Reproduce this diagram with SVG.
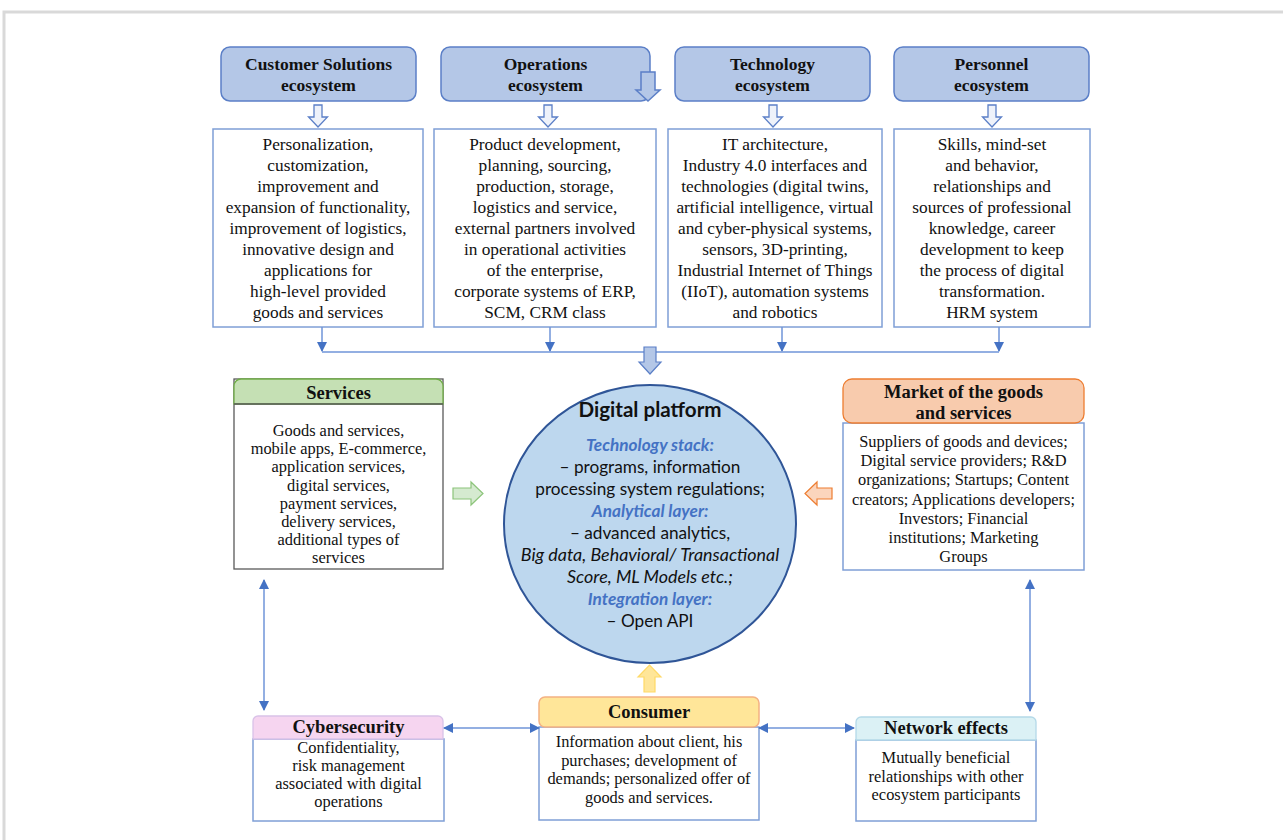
<svg xmlns="http://www.w3.org/2000/svg" width="1283" height="840" viewBox="0 0 1283 840">
<defs>
<style>
.hdr{fill:#b4c7e7;stroke:#5b7fc7;stroke-width:1.5}
.box{fill:#fff;stroke:#7f9fd6;stroke-width:1.5}
.t{font-family:"Liberation Serif",serif;font-size:17.3px;fill:#111;text-anchor:middle}
.s{font-family:"Liberation Serif",serif;font-size:16.4px;fill:#111;text-anchor:middle}
.b{font-family:"Liberation Serif",serif;font-size:17.5px;font-weight:bold;fill:#111;text-anchor:middle}
.b2{font-family:"Liberation Serif",serif;font-size:18.5px;font-weight:bold;fill:#111;text-anchor:middle}
.c{font-family:Lato,"Liberation Sans",sans-serif;font-size:17.2px;fill:#111;text-anchor:middle}
.ci{font-style:italic;font-size:17.9px}
.cb{font-family:Lato,"Liberation Sans",sans-serif;font-size:17.2px;font-style:italic;font-weight:bold;fill:#4472c4;text-anchor:middle}
.sm{fill:#eef2fa;stroke:#5b7fc7;stroke-width:1.3}
.ln{fill:none;stroke:#6f94d8;stroke-width:1.5}
</style>
<marker id="ah" viewBox="0 0 10 10" refX="9" refY="5" markerWidth="10" markerHeight="10" markerUnits="userSpaceOnUse" orient="auto-start-reverse">
<path d="M0,0 L10,5 L0,10 z" fill="#4472c4"/>
</marker>
</defs>
<rect x="4" y="12" width="1300" height="860" fill="none" stroke="#d9d9d9" stroke-width="3"/>

<g id="customer-solutions">
<rect class="hdr" x="221" y="47" width="195" height="54" rx="9"/>
<text class="b" x="318.5" y="70">Customer Solutions</text>
<text class="b" x="318.5" y="91">ecosystem</text>
<path class="sm" d="M314,105 h8 v12 h5.5 l-9.5,10 l-9.5,-10 h5.5 z"/>
<rect class="box" x="213" y="129" width="210" height="198"/>
<text class="t" x="318" y="150">Personalization,</text>
<text class="t" x="318" y="171">customization,</text>
<text class="t" x="318" y="192">improvement and</text>
<text class="t" x="318" y="213">expansion of functionality,</text>
<text class="t" x="318" y="234">improvement of logistics,</text>
<text class="t" x="318" y="255">innovative design and</text>
<text class="t" x="318" y="276">applications for</text>
<text class="t" x="318" y="297">high-level provided</text>
<text class="t" x="318" y="318">goods and services</text>
</g>

<g id="operations">
<rect class="hdr" x="441" y="47" width="209" height="54" rx="9"/>
<text class="b" x="545.5" y="70">Operations</text>
<text class="b" x="545.5" y="91">ecosystem</text>
<path class="hdr" d="M641,72 h14 v18 h5 l-12,11 l-12,-11 h5 z"/>
<path class="sm" d="M544,105 h8 v12 h5.5 l-9.5,10 l-9.5,-10 h5.5 z"/>
<rect class="box" x="434" y="129" width="222" height="198"/>
<text class="t" x="545" y="150">Product development,</text>
<text class="t" x="545" y="171">planning, sourcing,</text>
<text class="t" x="545" y="192">production, storage,</text>
<text class="t" x="545" y="213">logistics and service,</text>
<text class="t" x="545" y="234">external partners involved</text>
<text class="t" x="545" y="255">in operational activities</text>
<text class="t" x="545" y="276">of the enterprise,</text>
<text class="t" x="545" y="297">corporate systems of ERP,</text>
<text class="t" x="545" y="318">SCM, CRM class</text>
</g>

<g id="technology">
<rect class="hdr" x="675" y="47" width="195" height="54" rx="9"/>
<text class="b" x="772.5" y="70">Technology</text>
<text class="b" x="772.5" y="91">ecosystem</text>
<path class="sm" d="M769,105 h8 v12 h5.5 l-9.5,10 l-9.5,-10 h5.5 z"/>
<rect class="box" x="668" y="129" width="214" height="198"/>
<text class="t" x="775" y="150">IT architecture,</text>
<text class="t" x="775" y="171">Industry 4.0 interfaces and</text>
<text class="t" x="775" y="192">technologies (digital twins,</text>
<text class="t" x="775" y="213">artificial intelligence, virtual</text>
<text class="t" x="775" y="234">and cyber-physical systems,</text>
<text class="t" x="775" y="255">sensors, 3D-printing,</text>
<text class="t" x="775" y="276">Industrial Internet of Things</text>
<text class="t" x="775" y="297">(IIoT), automation systems</text>
<text class="t" x="775" y="318">and robotics</text>
</g>

<g id="personnel">
<rect class="hdr" x="894" y="47" width="195" height="54" rx="9"/>
<text class="b" x="991.5" y="70">Personnel</text>
<text class="b" x="991.5" y="91">ecosystem</text>
<path class="sm" d="M988,105 h8 v12 h5.5 l-9.5,10 l-9.5,-10 h5.5 z"/>
<rect class="box" x="894" y="129" width="196" height="198"/>
<text class="t" x="992" y="150">Skills, mind-set</text>
<text class="t" x="992" y="171">and behavior,</text>
<text class="t" x="992" y="192">relationships and</text>
<text class="t" x="992" y="213">sources of professional</text>
<text class="t" x="992" y="234">knowledge, career</text>
<text class="t" x="992" y="255">development to keep</text>
<text class="t" x="992" y="276">the process of digital</text>
<text class="t" x="992" y="297">transformation.</text>
<text class="t" x="992" y="318">HRM system</text>
</g>

<g id="digital-platform">
<ellipse cx="650" cy="524" rx="146" ry="139" fill="#bdd7ee" stroke="#2f5597" stroke-width="2"/>
<text class="c" x="650" y="417" style="font-weight:bold;font-size:20.6px">Digital platform</text>
<text class="cb" x="650" y="451">Technology stack:</text>
<text class="c" x="650" y="473">– programs, information</text>
<text class="c" x="650" y="495">processing system regulations;</text>
<text class="cb" x="650" y="517">Analytical layer:</text>
<text class="c" x="650" y="539">– advanced analytics,</text>
<text class="c ci" x="650" y="561">Big data, Behavioral/ Transactional</text>
<text class="c ci" x="650" y="583">Score, ML Models etc.;</text>
<text class="cb" x="650" y="605">Integration layer:</text>
<text class="c" x="650" y="627">– Open API</text>
</g>

<g id="services">
<rect x="234" y="379" width="209" height="190" fill="#fff" stroke="#595959" stroke-width="1.3"/>
<path d="M234,404 V386 a7,7 0 0 1 7,-7 H436 a7,7 0 0 1 7,7 V404 z" fill="#c5e0b4" stroke="#70ad47" stroke-width="1.3"/>
<line x1="234" y1="404" x2="443" y2="404" stroke="#595959" stroke-width="1.3"/>
<text class="b2" x="338.5" y="399">Services</text>
<text class="s" x="338.5" y="436">Goods and services,</text>
<text class="s" x="338.5" y="454">mobile apps, E-commerce,</text>
<text class="s" x="338.5" y="472">application services,</text>
<text class="s" x="338.5" y="491">digital services,</text>
<text class="s" x="338.5" y="509">payment services,</text>
<text class="s" x="338.5" y="527">delivery services,</text>
<text class="s" x="338.5" y="545">additional types of</text>
<text class="s" x="338.5" y="563">services</text>
</g>

<g id="market">
<rect class="box" x="843" y="423" width="241" height="147"/>
<rect x="843" y="379" width="241" height="44" rx="9" fill="#f8cbad" stroke="#ed7d31" stroke-width="1.3"/>
<text class="b2" x="963.5" y="398">Market of the goods</text>
<text class="b2" x="963.5" y="419">and services</text>
<text class="s" x="963.5" y="447">Suppliers of goods and devices;</text>
<text class="s" x="963.5" y="466">Digital service providers; R&amp;D</text>
<text class="s" x="963.5" y="485">organizations; Startups; Content</text>
<text class="s" x="963.5" y="505">creators; Applications developers;</text>
<text class="s" x="963.5" y="524">Investors; Financial</text>
<text class="s" x="963.5" y="543">institutions; Marketing</text>
<text class="s" x="963.5" y="562">Groups</text>
</g>

<g id="cybersecurity">
<rect class="box" x="253" y="739" width="191" height="82"/>
<path d="M253,739 V721 a5,5 0 0 1 5,-5 H438 a5,5 0 0 1 5,5 V739 z" fill="#f6d5f0" stroke="#d9c2e8" stroke-width="1.3"/>
<text class="b2" x="348.5" y="733">Cybersecurity</text>
<text class="s" x="348.5" y="753">Confidentiality,</text>
<text class="s" x="348.5" y="771">risk management</text>
<text class="s" x="348.5" y="789">associated with digital</text>
<text class="s" x="348.5" y="807">operations</text>
</g>

<g id="consumer">
<rect class="box" x="539" y="727" width="220" height="93"/>
<rect x="539" y="697" width="220" height="30" rx="6" fill="#ffe699" stroke="#f4b183" stroke-width="1.5"/>
<text class="b2" x="649" y="718">Consumer</text>
<text class="s" x="649" y="747">Information about client, his</text>
<text class="s" x="649" y="766">purchases; development of</text>
<text class="s" x="649" y="784">demands; personalized offer of</text>
<text class="s" x="649" y="803">goods and services.</text>
</g>

<g id="network-effects">
<rect class="box" x="856" y="740" width="180" height="81"/>
<path d="M856,740 V722 a5,5 0 0 1 5,-5 H1031 a5,5 0 0 1 5,5 V740 z" fill="#dbf1f5" stroke="#b4d9e8" stroke-width="1.3"/>
<text class="b2" x="946" y="734">Network effects</text>
<text class="s" x="946" y="763">Mutually beneficial</text>
<text class="s" x="946" y="782">relationships with other</text>
<text class="s" x="946" y="800">ecosystem participants</text>
</g>

<g id="connectors">
<path class="ln" d="M322,327 V351" marker-end="url(#ah)"/>
<path class="ln" d="M550,327 V351" marker-end="url(#ah)"/>
<path class="ln" d="M782,327 V351" marker-end="url(#ah)"/>
<path class="ln" d="M999,327 V351" marker-end="url(#ah)"/>
<path class="ln" d="M322,352 H999"/>
<path d="M644,347 h12 v15 h5 l-11,12 l-11,-12 h5 z" fill="#b4c7e7" stroke="#5b7fc7" stroke-width="1.2"/>
<path d="M453,488 h18 v-6 l12,11.5 l-12,11.5 v-6 h-18 z" fill="#d5ead0" stroke="#8cc47a" stroke-width="1.2"/>
<path d="M832,488 h-15 v-6 l-12,11.5 l12,11.5 v-6 h15 z" fill="#fbd5bd" stroke="#ed7d31" stroke-width="1.2"/>
<path d="M644,692 v-15 h-6 l11.5,-12 l11.5,12 h-6 v15 z" fill="#ffe699" stroke="#ffd966" stroke-width="1.2"/>
<path class="ln" d="M264,580 V710" marker-start="url(#ah)" marker-end="url(#ah)"/>
<path class="ln" d="M1030,580 V711" marker-start="url(#ah)" marker-end="url(#ah)"/>
<path class="ln" d="M444,728 H539" marker-start="url(#ah)" marker-end="url(#ah)"/>
<path class="ln" d="M759,728 H854" marker-start="url(#ah)" marker-end="url(#ah)"/>
</g>
</svg>
